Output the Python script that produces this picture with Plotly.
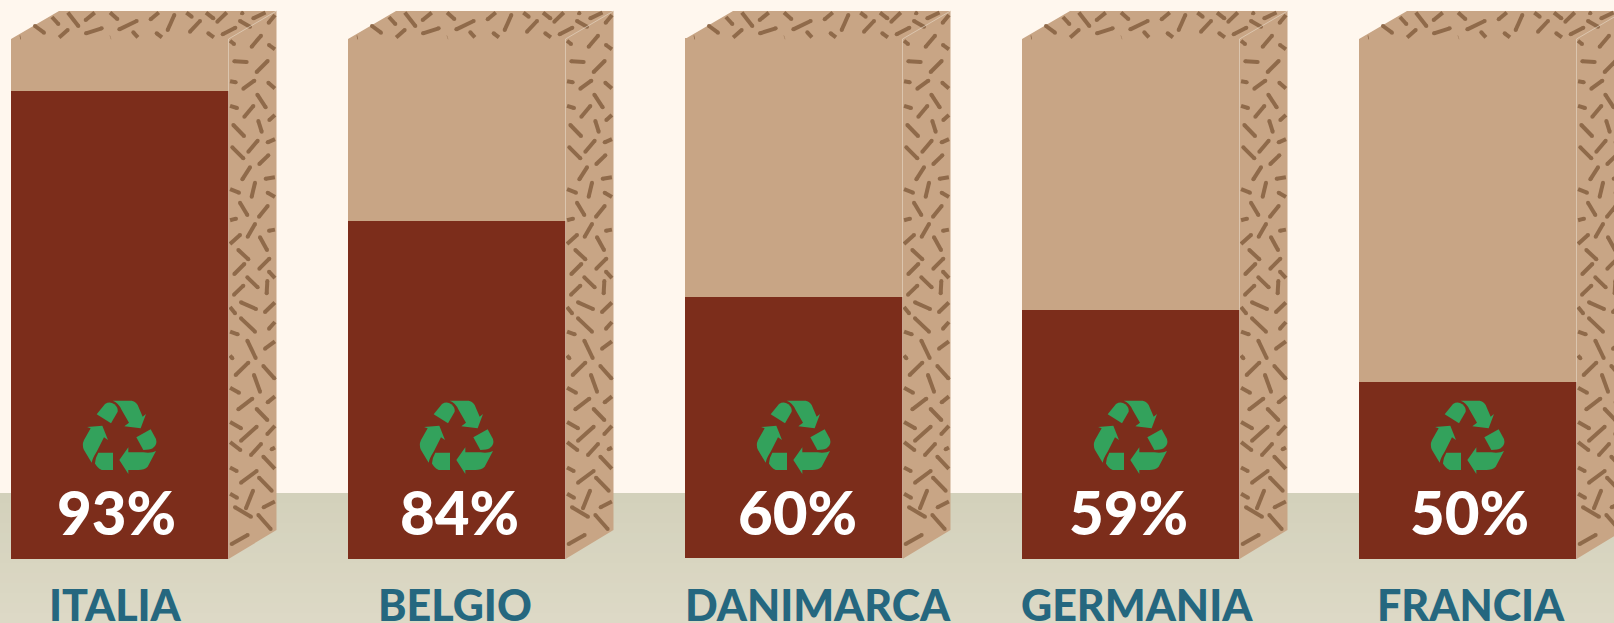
import plotly.graph_objects as go

# ---- data ----
countries = ["ITALIA", "BELGIO", "DANIMARCA", "GERMANIA", "FRANCIA"]
percent_labels = ["93%", "84%", "60%", "59%", "50%"]
# drawn height of the dark fill, as share of the box front
fill_height = [90.0, 65.0, 50.1, 47.8, 34.0]
box_height = [100, 100, 100, 100, 100]
bases = [0, 0, 0.2, 0, 0]

# ---- layout constants (px) ----
W, H = 1614, 623
SPACING = 337
FRONT = 217.5
LEFT0 = 11
TOP, BOTTOM = 39, 559
DX, DY = 48, 28
PX_PER_UNIT = (BOTTOM - TOP) / 100
label_shift = [-3.5, 3, 3.5, -2.5, 1.5]
name_shift = [-4.5, -1.5, 24, 6.5, 3]

BROWN = "#7C2D1B"
TAN = "#C8A585"
SPECK = "#8F6A4A"
GREEN = "#33A25C"
BLUE = "#25677F"
CREAM = "#FFF7EE"
SEAM = "rgba(225,208,188,0.75)"
DASH_W = 4

# speckle texture of one box (crop origin, list of dashes in 3x crop px)
TEXTURE = [
    ((0, 0), [(38,117,62,112),(105,78,132,98),(153,48,175,72),(203,37,235,78),(257,60,290,33),
              (325,33,352,57),(172,117,203,90),(258,100,305,85),(318,117,332,112),(358,88,410,63),
              (403,35,413,33),(400,97,418,117),(452,58,482,33),(470,100,492,117),(503,90,523,45),
              (545,113,582,113),(553,33,575,50),(570,95,600,63),(612,33,640,55),(625,100,648,117),
              (652,65,683,35),(668,103,706,83),(715,33,727,40),(720,63,750,80),(760,55,798,37),(806,68,829,40)]),
    ((225, 10), [(12,90,27,102),(80,110,108,77),(132,105,155,122),(28,154,65,156),(95,186,128,153),
                 (10,213,32,217),(55,236,88,212),(130,218,155,240),(97,254,122,292),(10,286,36,294),
                 (58,320,85,288),(133,330,155,310),(25,345,57,378),(100,333,110,365),(70,425,98,392),
                 (128,397,155,385),(22,412,55,445),(103,462,130,436),(52,508,75,472),(122,506,155,501)]),
    ((225, 190), [(10,-5,42,8),(80,20,90,-22),(128,8,155,24),(45,38,67,75),(102,80,128,48),(10,92,33,86),
                  (68,140,90,102),(132,122,155,118),(15,162,45,135),(105,142,126,180),(40,180,70,208),
                  (103,236,133,206),(28,252,58,222),(132,245,155,270),(67,262,98,292),(125,310,127,273),
                  (27,314,55,287),(48,337,93,357),(120,366,152,335),(10,345,30,370),(48,385,90,425),
                  (132,416,155,390),(10,423,38,433),(67,452,92,504),(120,476,155,450),(10,490,22,505),
                  (32,555,70,518),(115,528,148,565)]),
    ((225, 370), [(87,15,105,65),(10,50,42,68),(40,118,82,86),(128,97,155,75),(95,117,127,150),
                  (10,153,48,175),(48,212,95,170),(127,192,155,162),(10,212,46,240),(78,255,108,222),
                  (140,238,155,230),(115,260,150,297),(10,290,35,303),(48,338,95,303),(102,323,140,362),
                  (10,368,36,383),(63,415,84,362),(116,412,155,392),(30,412,78,440),(100,435,137,477),
                  (20,522,68,495)]),
]

ICON = [
    "M65 58 L90 27 Q105 18 118 28 Q130 38 128 50 L108 85 Z",
    "M113 17 L170 17 Q180 18 188 30 L203 65 L213 57 L197 100 L148 94 L162 83 L140 45 Q130 22 113 17 Z",
    "M184 127 L227 103 L243 132 Q248 150 233 160 Q225 165 205 165 Z",
    "M243 168 L218 215 Q208 225 190 225 L160 225 L160 237 L133 195 L160 157 L160 172 L205 172 Q230 175 243 168 Z",
    "M114 173 L114 225 L80 225 Q65 218 60 205 Q60 190 70 173 Z",
    "M50 203 L27 165 Q20 150 27 135 L47 100 L36 96 L82 92 L99 135 L87 127 L65 170 Q52 190 50 203 Z",
]


def icon_path(piece, dx):
    out, num_x = [], True
    for tok in piece.split():
        cmd = ""
        if tok[0].isalpha():
            cmd, tok = tok[0], tok[1:]
        if not tok:
            out.append(cmd)
            continue
        v = float(tok)
        v = 75 + dx + v / 3 if num_x else 395 + v / 3
        num_x = not num_x
        out.append(f"{cmd}{v:.2f}")
    return " ".join(out)


def inside(px, py, poly):
    hit = False
    n = len(poly)
    for i in range(n):
        x1, y1 = poly[i]
        x2, y2 = poly[(i + 1) % n]
        if (y1 > py) != (y2 > py) and px < x1 + (py - y1) * (x2 - x1) / (y2 - y1):
            hit = not hit
    return hit


def hull(left, inset=0):
    r = left + FRONT
    return [(left + inset, TOP - inset), (left + DX + inset, TOP - DY + inset), (r + DX - inset, TOP - DY + inset),
            (r + DX - inset, BOTTOM - 29 - inset), (r + inset, BOTTOM - inset), (r + inset, TOP - inset)]


def clip(seg, poly, steps=80):
    x1, y1, x2, y2 = seg
    ts = [i / steps for i in range(steps + 1)]
    keep = [t for t in ts if inside(x1 + (x2 - x1) * t, y1 + (y2 - y1) * t, poly)]
    if not keep:
        return None
    a, b = keep[0], keep[-1]
    return x1 + (x2 - x1) * a, y1 + (y2 - y1) * a, x1 + (x2 - x1) * b, y1 + (y2 - y1) * b


line_x, line_y, cap_x, cap_y = [], [], [], []
shapes = []

# ground
GROUND_TOP = 493
bands = 13
for i in range(bands):
    f = i / (bands - 1)
    c = (round(211 + 10 * f), round(209 + 8 * f), round(187 + 11 * f))
    y0 = GROUND_TOP + (H - GROUND_TOP) * i / bands
    y1 = GROUND_TOP + (H - GROUND_TOP) * (i + 1) / bands
    shapes.append(dict(type="rect", xref="paper", yref="paper", x0=0, x1=1, y0=1 - y0 / H, y1=1 - y1 / H,
                       fillcolor=f"rgb{c}", line_width=0, layer="below"))

for k in range(len(countries)):
    left = LEFT0 + k * SPACING
    r = left + FRONT
    dx = left - LEFT0
    poly = hull(left)
    edge = hull(left, DASH_W / 2 - 0.5)
    cap_edge = hull(left, DASH_W / 2)
    shapes.append(dict(type="path", xref="x2", yref="y2", layer="below", fillcolor=TAN, line_width=0,
                       path="M" + " L".join(f"{a} {b}" for a, b in poly) + " Z"))
    for (ox, oy), dashes in TEXTURE:
        for a, b, c, d in dashes:
            seg = (ox + a / 3 + dx, oy + b / 3, ox + c / 3 + dx, oy + d / 3)
            res = clip(seg, edge)
            if res is None:
                continue
            xa, ya, xb, yb = res
            line_x += [xa, xb, None]
            line_y += [ya, yb, None]
            if inside(xa, ya, cap_edge):
                cap_x.append(xa); cap_y.append(ya)
            if inside(xb, yb, cap_edge):
                cap_x.append(xb); cap_y.append(yb)
    shapes.append(dict(type="path", xref="x2", yref="y2", layer="above", line=dict(color=SEAM, width=1),
                       path=f"M{r} {BOTTOM} L{r} {TOP} L{r + DX} {TOP - DY}"))
    for piece in ICON:
        shapes.append(dict(type="path", xref="x2", yref="y2", layer="above", fillcolor=GREEN, line_width=0,
                           path=icon_path(piece, dx)))

fig = go.Figure()
fig.add_bar(x=countries, y=box_height, base=bases, width=FRONT / SPACING, marker=dict(color=TAN, line_width=0),
            hoverinfo="skip", showlegend=False)
fig.add_bar(x=countries, y=fill_height, base=bases, width=FRONT / SPACING, marker=dict(color=BROWN, line_width=0),
            hoverinfo="skip", showlegend=False)
fig.add_scatter(x=line_x, y=line_y, xaxis="x2", yaxis="y2", mode="lines", line=dict(color=SPECK, width=DASH_W),
                hoverinfo="skip", showlegend=False)
fig.add_scatter(x=cap_x, y=cap_y, xaxis="x2", yaxis="y2", mode="markers", marker=dict(color=SPECK, size=DASH_W, line_width=0),
                hoverinfo="skip", showlegend=False)

annotations = []
for k, c in enumerate(countries):
    annotations.append(dict(x=c, xref="x", yref="y2", y=512, text=percent_labels[k], showarrow=False,
                            xshift=label_shift[k], yanchor="middle", xanchor="center",
                            font=dict(family="Lato", size=60, color="white", weight=900)))
    annotations.append(dict(x=c, xref="x", yref="y2", y=604, text=c, showarrow=False,
                            xshift=name_shift[k], yanchor="middle", xanchor="center",
                            font=dict(family="Lato", size=43, color=BLUE, weight=900)))

first_center = LEFT0 + FRONT / 2
fig.update_layout(
    width=W, height=H, margin=dict(l=0, r=0, t=0, b=0),
    paper_bgcolor=CREAM, plot_bgcolor="rgba(0,0,0,0)", barmode="overlay",
    bargap=0, shapes=shapes, annotations=annotations, showlegend=False,
    xaxis=dict(type="category", categoryorder="array", categoryarray=countries,
               range=[-first_center / SPACING, (W - first_center) / SPACING], visible=False, fixedrange=True),
    yaxis=dict(range=[(BOTTOM - H) / PX_PER_UNIT, BOTTOM / PX_PER_UNIT], visible=False, fixedrange=True),
    xaxis2=dict(range=[0, W], overlaying="x", anchor="y2", visible=False, fixedrange=True),
    yaxis2=dict(range=[H, 0], overlaying="y", anchor="x2", visible=False, fixedrange=True),
)
fig.write_html("out.html", config=dict(displayModeBar=False),
               post_script="document.body.style.margin='0';document.documentElement.style.overflow='hidden';")
